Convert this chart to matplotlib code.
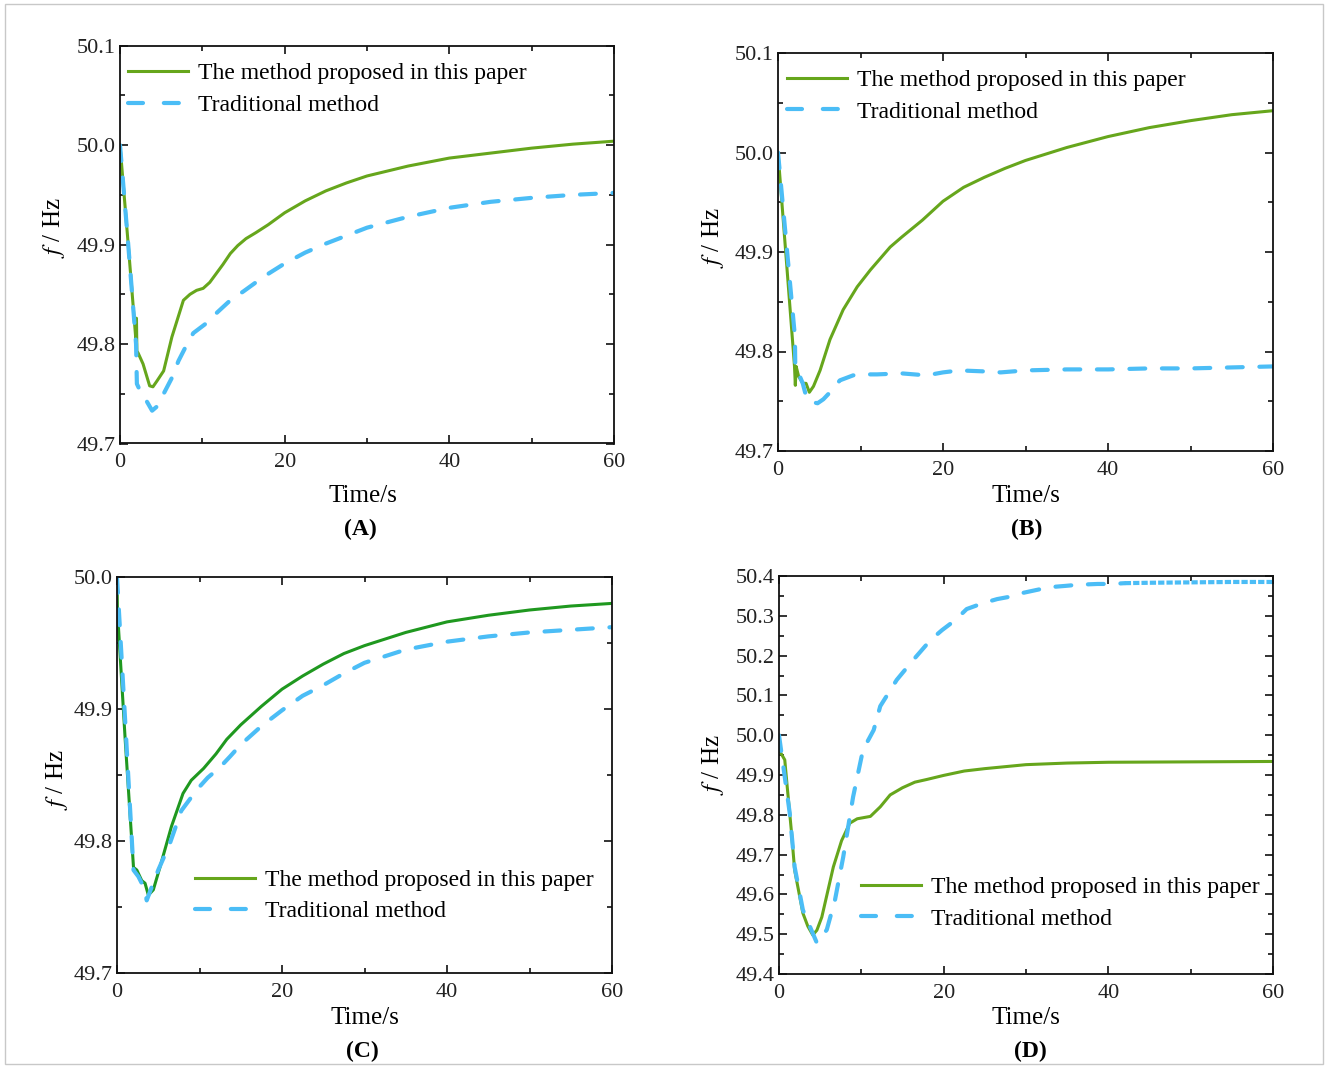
import matplotlib
matplotlib.use('Agg')
import matplotlib.pyplot as plt
from matplotlib.lines import Line2D
from matplotlib.ticker import MultipleLocator, FormatStrFormatter
from matplotlib.patches import Rectangle

plt.rcParams['font.family'] = ['Liberation Serif', 'DejaVu Serif']
plt.rcParams['mathtext.fontset'] = 'stix'

# ---------------- data ----------------
label_new = "The method proposed in this paper"
label_old = "Traditional method"
panel_names = ["(A)", "(B)", "(C)", "(D)"]
x_ticks = [0, 20, 40, 60]

# Panel A
tA_new = [0, 1.0, 1.97, 2.0, 2.05, 2.2, 2.8, 3.6, 4.0, 4.5, 5.3, 6.3, 7.7, 8.5, 9.3, 10.1, 10.9,
          11.7, 12.5, 13.4, 14.3, 15.3, 16.5, 18, 20, 22.5, 25, 27.5, 30, 35, 40, 45, 50, 55, 60]
fA_new = [50.0, 49.90, 49.80, 49.826, 49.793, 49.791, 49.780, 49.758, 49.757, 49.763, 49.773,
          49.807, 49.844, 49.850, 49.854, 49.856, 49.862, 49.871, 49.880, 49.891, 49.899, 49.906,
          49.912, 49.920, 49.932, 49.944, 49.954, 49.962, 49.969, 49.979, 49.987, 49.992, 49.997,
          50.001, 50.004]
tA_old = [0, 1.0, 1.95, 2.05, 2.5, 3.0, 3.9, 4.6, 5.3, 6.3, 7.1, 7.9, 8.9, 10.5, 11.7, 13.4, 15,
          17.5, 20, 22.5, 25, 27.5, 30, 35, 40, 45, 50, 55, 60]
fA_old = [50.0, 49.90, 49.80, 49.76, 49.752, 49.746, 49.733, 49.738, 49.750, 49.766, 49.783,
          49.796, 49.811, 49.821, 49.831, 49.844, 49.853, 49.868, 49.881, 49.892, 49.901, 49.909,
          49.917, 49.928, 49.937, 49.943, 49.947, 49.950, 49.952]

# Panel B
tB_new = [0, 1.0, 2.0, 2.1, 2.2, 2.5, 3.0, 3.4, 3.8, 4.3, 5.1, 6.3, 7.9, 9.6, 11.2, 13.6, 15,
          17.5, 20, 22.5, 25, 27.5, 30, 35, 40, 45, 50, 55, 60]
fB_new = [50.0, 49.893, 49.785, 49.766, 49.785, 49.775, 49.768, 49.768, 49.759, 49.765, 49.781,
          49.812, 49.842, 49.865, 49.882, 49.905, 49.915, 49.932, 49.951, 49.965, 49.975, 49.984,
          49.992, 50.005, 50.016, 50.025, 50.032, 50.038, 50.042]
tB_old = [0, 1.0, 2.05, 2.1, 2.6, 3.0, 3.5, 4.2, 4.8, 5.5, 6.3, 7.5, 9.1, 10.5, 12, 15, 18, 20,
          22, 25, 27, 30, 35, 40, 45, 50, 55, 60]
fB_old = [50.0, 49.91, 49.815, 49.781, 49.776, 49.768, 49.752, 49.749, 49.748, 49.752, 49.759,
          49.771, 49.776, 49.777, 49.777, 49.778, 49.776, 49.779, 49.781, 49.780, 49.779, 49.781,
          49.782, 49.782, 49.783, 49.783, 49.784, 49.785]

# Panel C
tC_new = [0, 0.05, 1.0, 2.0, 2.4, 3.0, 3.4, 3.8, 4.4, 5.2, 6.6, 8.0, 9.0, 10.5, 12.0, 13.3, 15,
          17.5, 20, 22.5, 25, 27.5, 30, 35, 40, 45, 50, 55, 60]
fC_new = [50.0, 49.975, 49.876, 49.780, 49.778, 49.770, 49.768, 49.759, 49.763, 49.780, 49.811,
          49.836, 49.846, 49.855, 49.866, 49.877, 49.888, 49.902, 49.915, 49.925, 49.934, 49.942,
          49.948, 49.958, 49.966, 49.971, 49.975, 49.978, 49.980]
tC_old = [0, 1.0, 2.0, 2.6, 3.4, 3.6, 4.2, 5.0, 6.4, 7.8, 9.7, 11, 12.5, 13.7, 15, 17.5, 20,
          22.5, 25, 27.5, 30, 35, 40, 45, 50, 55, 60]
fC_old = [50.0, 49.89, 49.778, 49.773, 49.763, 49.755, 49.765, 49.778, 49.798, 49.823, 49.839,
          49.848, 49.856, 49.864, 49.873, 49.887, 49.899, 49.910, 49.918, 49.927, 49.935, 49.945,
          49.951, 49.955, 49.958, 49.960, 49.962]

# Panel D
tD_new = [0, 0.7, 1.0, 1.5, 1.9, 2.9, 3.5, 4.1, 4.6, 5.2, 6.6, 7.6, 8.6, 9.5, 11.1, 12.3, 13.5,
          15, 16.5, 18, 20, 22.5, 25, 30, 35, 40, 50, 60]
fD_new = [49.963, 49.938, 49.87, 49.76, 49.661, 49.553, 49.52, 49.498, 49.51, 49.543, 49.669,
          49.735, 49.779, 49.79, 49.796, 49.82, 49.850, 49.868, 49.882, 49.889, 49.899, 49.910,
          49.916, 49.926, 49.930, 49.932, 49.933, 49.934]
tD_old = [0, 1.3, 1.9, 2.9, 4.6, 5.8, 6.8, 7.8, 9.0, 10.2, 11.5, 12.3, 14.3, 16.3, 18.4, 19.8,
          21.4, 22.8, 24.8, 26.5, 27.8, 29.5, 31.3, 32.9, 34.7, 36.3, 38.7, 40.4, 42, 45, 50, 55, 60]
fD_old = [50.0, 49.805, 49.669, 49.561, 49.478, 49.511, 49.586, 49.694, 49.845, 49.963, 50.013,
          50.073, 50.139, 50.189, 50.239, 50.264, 50.289, 50.317, 50.332, 50.342, 50.347, 50.357,
          50.365, 50.372, 50.375, 50.378, 50.380, 50.380, 50.382, 50.383, 50.384, 50.385, 50.385]
tD_dot_start = 42  # tail of the traditional curve rendered densely dotted

# ---------------- style ----------------
W, H = 1328, 1068
GREEN = '#66a61c'
DKGREEN = '#1f981f'
BLUE = '#4bbdf6'
LW_G = 2.2
LW_B = 3.0
DASH_CURVE = (0, (3.8, 4.0))
DASH_LEG = (0, (3.6, 5.0))

fig = plt.figure(figsize=(W / 100, H / 100), dpi=100)
fig.patches.append(Rectangle((5 / W, 4 / H), 1 - 10 / W, 1 - 8 / H, transform=fig.transFigure,
                             fill=False, edgecolor='#c8c8c8', lw=1.0))

# axes boxes in pixels: left, top, right, bottom
boxes = [(120, 45.7, 614, 443.5), (778, 53, 1273, 451), (117, 577, 612, 973), (779, 576, 1273, 974)]
ylims = [(49.7, 50.1), (49.7, 50.1), (49.7, 50.0), (49.4, 50.4)]
series = [(tA_new, fA_new, tA_old, fA_old), (tB_new, fB_new, tB_old, fB_old),
          (tC_new, fC_new, tC_old, fC_old), (tD_new, fD_new, tD_old, fD_old)]
new_colors = [GREEN, GREEN, DKGREEN, GREEN]
leg_anchor = [(0.016, 0.957), (0.018, 0.959), (0.158, 0.262), (0.166, 0.245)]
xlab_pos = [(363, 496), (1026, 496), (365, 1018), (1026, 1018)]
plab_pos = [(360, 529), (1027, 529), (362, 1051), (1030, 1051)]
ylab_pos = [(54, 228), (713, 238), (57, 780), (713, 765)]

for i in range(4):
    l, t, r, b = boxes[i]
    ax = fig.add_axes([l / W, 1 - b / H, (r - l) / W, (b - t) / H])
    tn, fn, to, fo = series[i]
    ax.plot(tn, fn, color=new_colors[i], lw=LW_G, solid_capstyle='round')
    if i == 3:
        to_a = [x for x in to if x <= tD_dot_start]
        fo_a = fo[:len(to_a)]
        to_b = to[len(to_a) - 1:]
        fo_b = fo[len(to_a) - 1:]
        ax.plot(to_a, fo_a, color=BLUE, lw=LW_B, linestyle=DASH_CURVE, dash_capstyle='round')
        ax.plot(to_b, fo_b, color=BLUE, lw=LW_B, linestyle=(0, (1.5, 0.5)), dash_capstyle='butt')
    else:
        ax.plot(to, fo, color=BLUE, lw=LW_B, linestyle=DASH_CURVE, dash_capstyle='round')

    ax.set_xlim(0, 60)
    ax.set_ylim(*ylims[i])
    ax.set_xticks(x_ticks)
    ax.xaxis.set_minor_locator(MultipleLocator(10))
    ax.yaxis.set_major_locator(MultipleLocator(0.1))
    ax.yaxis.set_minor_locator(MultipleLocator(0.05))
    ax.yaxis.set_major_formatter(FormatStrFormatter('%.1f'))
    ax.tick_params(which='both', direction='in', top=True, right=True, width=1.2,
                   color='#111111', labelcolor='#222222', labelsize=16)
    ax.tick_params(which='major', length=6)
    ax.tick_params(which='minor', length=3.6)
    ax.tick_params(axis='x', pad=7)
    ax.tick_params(axis='y', pad=3)
    for sp in ax.spines.values():
        sp.set_linewidth(1.3)
        sp.set_color('#111111')

    handles = [Line2D([], [], color=GREEN, lw=LW_G),
               Line2D([], [], color=BLUE, lw=LW_B, linestyle=DASH_LEG, dash_capstyle='round')]
    ax.legend(handles, [label_new, label_old], loc='upper left', bbox_to_anchor=leg_anchor[i],
              frameon=False, fontsize=17, handlelength=2.55, handletextpad=0.4,
              labelspacing=0.43, borderpad=0, borderaxespad=0)

    fig.text(xlab_pos[i][0] / W, 1 - xlab_pos[i][1] / H, "Time/s", fontsize=18,
             ha='center', va='center')
    fig.text(plab_pos[i][0] / W, 1 - plab_pos[i][1] / H, panel_names[i], fontsize=17,
             fontweight='bold', ha='center', va='center')
    fig.text(ylab_pos[i][0] / W, 1 - ylab_pos[i][1] / H, "$f$ / Hz", fontsize=18,
             rotation=90, ha='center', va='center')

fig.savefig('out.png', dpi=100)
